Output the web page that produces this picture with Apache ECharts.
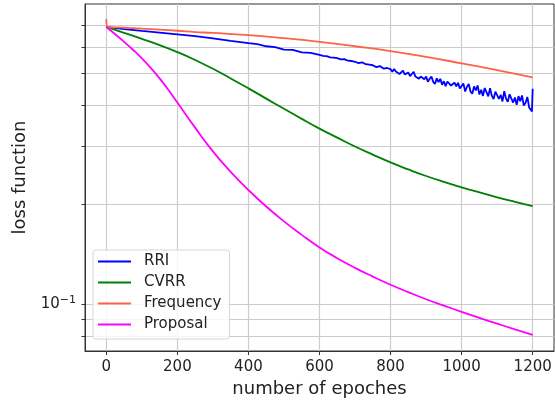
<!DOCTYPE html>
<html>
<head>
<meta charset="utf-8">
<script src="https://cdn.jsdelivr.net/npm/echarts@6/dist/echarts.min.js"></script>
<style>
html, body { margin: 0; padding: 0; background: #fff; }
#chart { width: 555px; height: 403px; }
</style>
</head>
<body>
<div id="chart"></div>
<script>
// tick values
const epochTicks = [0, 200, 400, 600, 800, 1000, 1200]
const lossTicks = [0.08, 0.09, 0.1, 0.2, 0.3, 0.4, 0.5, 0.6, 0.7]
const lossLabels = [0.1]

// RRI (gets noisy towards the end)
const rriEpochs = [0, 50, 100, 150, 200, 250, 300, 350, 400, 425, 450, 475, 500, 525, 550, 575,
  600, 610, 620, 630, 640, 650, 660, 670, 680, 690, 700, 710, 720, 730, 740, 750, 760, 770, 780, 790,
  800, 805, 810, 815, 820, 825, 830, 835, 840, 845, 850, 855, 860, 865, 870, 875, 880, 885, 890, 895,
  900, 905, 910, 915, 920, 925, 930, 935, 940, 945, 950, 955, 960, 965, 970, 975, 980, 985, 990, 995,
  1000, 1005, 1010, 1015, 1020, 1025, 1030, 1035, 1040, 1045, 1050, 1055, 1060, 1065, 1070, 1075, 1080, 1085, 1090, 1095,
  1100, 1105, 1110, 1115, 1120, 1125, 1130, 1135, 1140, 1145, 1150, 1155, 1160, 1165, 1170, 1175, 1180, 1185, 1190, 1195,
  1198, 1200]
const rriLoss = [0.691, 0.681, 0.672, 0.664, 0.656, 0.648, 0.638, 0.627, 0.617, 0.613, 0.604, 0.600, 0.590, 0.589, 0.579, 0.577,
  0.569, 0.565, 0.564, 0.559, 0.558, 0.556, 0.551, 0.552, 0.546, 0.545, 0.542, 0.537, 0.540, 0.533, 0.531, 0.529, 0.522, 0.526, 0.517, 0.519,
  0.5146, 0.5054, 0.5151, 0.5061, 0.5101, 0.4976, 0.5042, 0.5093, 0.4963, 0.4979, 0.5025, 0.4901, 0.4967, 0.5055, 0.4888, 0.4948, 0.4817, 0.4891, 0.4915, 0.4797,
  0.4892, 0.4712, 0.4814, 0.4888, 0.4713, 0.4643, 0.4828, 0.4706, 0.4811, 0.4618, 0.4732, 0.4574, 0.4724, 0.4771, 0.4591, 0.4531, 0.4684, 0.4569, 0.4679, 0.4497,
  0.4510, 0.4661, 0.4403, 0.4554, 0.4640, 0.4407, 0.4337, 0.4565, 0.4436, 0.4592, 0.4313, 0.4460, 0.4271, 0.4513, 0.4386, 0.4259, 0.4509, 0.4278, 0.4179, 0.4399,
  0.4429, 0.4182, 0.4303, 0.4111, 0.4415, 0.4191, 0.4103, 0.4319, 0.4374, 0.4078, 0.4225, 0.4013, 0.4267, 0.4115, 0.4285, 0.3992, 0.4071, 0.4240, 0.3942, 0.3894,
  0.3830, 0.4490]

const cvrrEpochs = [0, 50, 100, 150, 200, 250, 300, 350, 400, 450, 500, 550, 600, 650, 700, 750, 800, 850, 900, 950, 1000, 1050, 1100, 1150, 1200]
const cvrrLoss = [0.691, 0.663, 0.636, 0.609, 0.580, 0.549, 0.516, 0.4826, 0.4503, 0.4192, 0.3904, 0.3639, 0.340, 0.3192, 0.300, 0.2835, 0.2685,
  0.2557, 0.2443, 0.2345, 0.2258, 0.2179, 0.2106, 0.2041, 0.1981]

const freqEpochs = [0, 4, 50, 100, 150, 200, 250, 300, 400, 500, 600, 700, 800, 900, 1000, 1100, 1200]
const freqLoss = [0.73, 0.692, 0.688, 0.683, 0.678, 0.673, 0.667, 0.663, 0.653, 0.639, 0.623, 0.604, 0.584, 0.561, 0.536, 0.511, 0.486]

const propEpochs = [0, 25, 50, 75, 100, 125, 150, 175, 200, 250, 300, 350, 400, 450, 500, 550, 600, 650, 700, 750, 800, 850, 900, 950, 1000, 1050, 1100, 1150, 1200]
const propLoss = [0.691, 0.657, 0.623, 0.5895, 0.5552, 0.5194, 0.4826, 0.4452, 0.4079, 0.3423, 0.2901, 0.2515, 0.2215, 0.1974, 0.178, 0.162,
  0.1484, 0.1377, 0.1287, 0.1211, 0.1144, 0.1086, 0.1034, 0.0989, 0.0947, 0.0908, 0.0872, 0.0838, 0.0806]

const pairs = (xs, ys) => xs.map((x, i) => [x, ys[i]])

const font = 'DejaVu Sans'
const chart = echarts.init(document.getElementById('chart'))

function line(name, color, xs, ys, smooth) {
  return {
    name: name,
    type: 'line',
    data: pairs(xs, ys),
    symbol: 'none',
    smooth: smooth,
    lineStyle: { color: color, width: 1.8 },
    itemStyle: { color: color }
  }
}

chart.setOption({
  animation: false,
  backgroundColor: '#fff',
  grid: { left: 85, top: 4, width: 469, height: 347, show: true, borderColor: '#333', borderWidth: 1, backgroundColor: 'transparent' },
  legend: {
    orient: 'vertical',
    left: 93,
    top: 250,
    padding: [4, 8, 7, 5],
    itemWidth: 33,
    itemHeight: 16,
    itemGap: 6,
    icon: 'path://M0,0H33V2H0Z',
    symbolKeepAspect: true,
    backgroundColor: 'rgba(255,255,255,0.8)',
    borderColor: '#d6d6d6',
    borderWidth: 1,
    borderRadius: 3,
    textStyle: { fontFamily: font, fontSize: 15, color: '#222', padding: [0, 0, 0, 8] },
    data: ['RRI', 'CVRR', 'Frequency', 'Proposal']
  },
  xAxis: {
    type: 'value',
    min: -60,
    max: 1260,
    name: 'number of epoches',
    nameLocation: 'middle',
    nameGap: 27,
    nameTextStyle: { fontFamily: font, fontSize: 18, color: '#222' },
    axisLine: { show: true, lineStyle: { color: '#333', width: 1 } },
    axisTick: { show: true, length: 4, lineStyle: { color: '#333' }, customValues: epochTicks },
    axisLabel: { fontFamily: font, fontSize: 15, color: '#222', margin: 9, customValues: epochTicks, formatter: v => String(v) },
    splitLine: { show: true, lineStyle: { color: '#cccccc', width: 1.2 } }
  },
  yAxis: {
    type: 'log',
    logBase: 10,
    min: 0.07205,
    max: 0.8111,
    name: 'loss function',
    nameLocation: 'middle',
    nameGap: 51,
    nameTextStyle: { fontFamily: font, fontSize: 18, color: '#222' },
    axisLine: { show: true, onZero: false, lineStyle: { color: '#333', width: 1 } },
    axisTick: { show: true, length: 3.5, lineStyle: { color: '#333' }, customValues: lossTicks },
    axisLabel: {
      fontFamily: font, fontSize: 15, color: '#222', margin: 9,
      customValues: lossLabels,
      formatter: () => '{b|10}{s|−1}',
      rich: {
        b: { fontFamily: font, fontSize: 15, color: '#222' },
        s: { fontFamily: font, fontSize: 11, color: '#222', padding: [0, 0, 8, 0] }
      }
    },
    splitLine: { show: true, lineStyle: { color: '#cccccc', width: 1.2 } }
  },
  series: [
    line('RRI', '#0000ff', rriEpochs, rriLoss, false),
    line('CVRR', '#008000', cvrrEpochs, cvrrLoss, true),
    line('Frequency', '#ff6347', freqEpochs, freqLoss, true),
    line('Proposal', '#ff00ff', propEpochs, propLoss, true)
  ]
})
</script>
</body>
</html>
